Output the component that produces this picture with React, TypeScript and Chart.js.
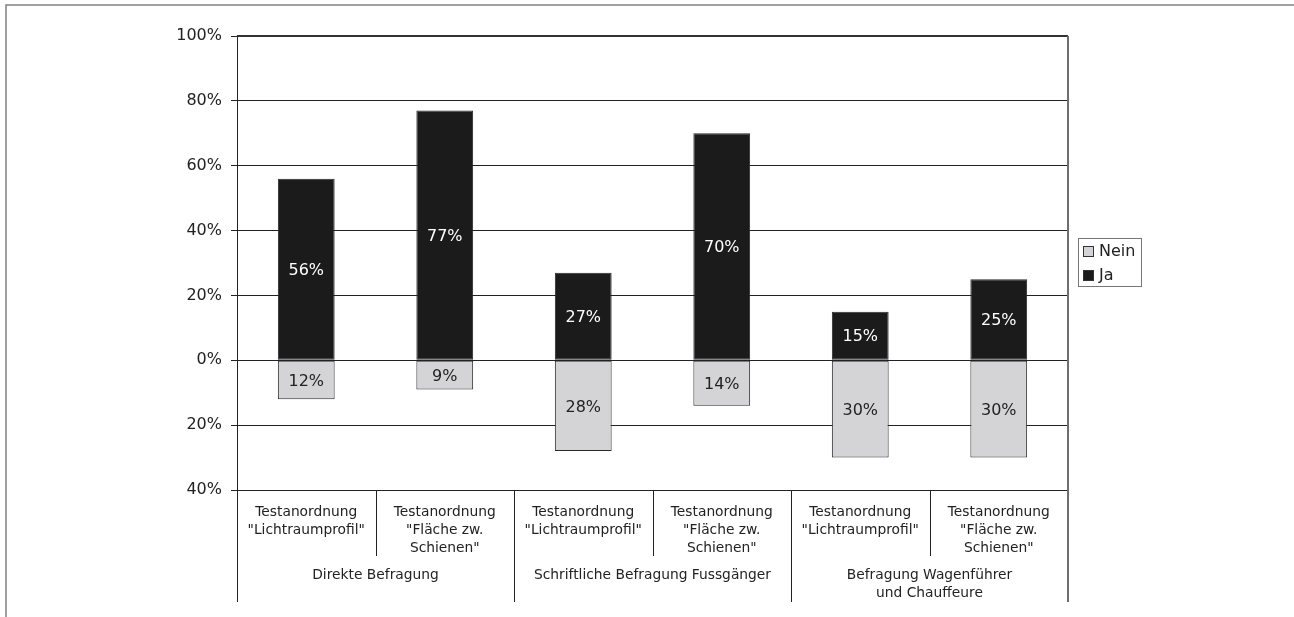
import React, { useEffect, useRef } from "react";
import { Chart, registerables } from "chart.js";

Chart.register(...registerables);

const categoryLabels: string[][] = [
  ["Testanordnung", "\"Lichtraumprofil\""],
  ["Testanordnung", "\"Fläche zw.", "Schienen\""],
  ["Testanordnung", "\"Lichtraumprofil\""],
  ["Testanordnung", "\"Fläche zw.", "Schienen\""],
  ["Testanordnung", "\"Lichtraumprofil\""],
  ["Testanordnung", "\"Fläche zw.", "Schienen\""],
];
const groupLabels: string[][] = [
  ["Direkte Befragung"],
  ["Schriftliche Befragung Fussgänger"],
  ["Befragung Wagenführer", "und Chauffeure"],
];
const neinValues = [-12, -9, -28, -14, -30, -30];
const jaValues = [56, 77, 27, 70, 15, 25];
const yMin = -40;
const yMax = 100;
const yStep = 20;

const FONT = "'DejaVu Sans', Verdana, sans-serif";
const TEXT = "#222222";

const barLabelPlugin = {
  id: "barLabels",
  afterDatasetsDraw(chart: any) {
    const ctx = chart.ctx;
    ctx.save();
    ctx.font = `16px ${FONT}`;
    ctx.textAlign = "center";
    ctx.textBaseline = "middle";
    chart.data.datasets.forEach((ds: any, di: number) => {
      const meta = chart.getDatasetMeta(di);
      meta.data.forEach((el: any, i: number) => {
        const v = ds.data[i];
        const p = el.getCenterPoint();
        ctx.fillStyle = ds.labelColor;
        ctx.fillText(Math.abs(v) + "%", p.x, p.y + 1.5);
      });
    });
    ctx.restore();
  },
};

const frameAndAxisPlugin = {
  id: "frameAxis",
  afterDraw(chart: any) {
    const ctx = chart.ctx;
    const area = chart.chartArea;
    const x = chart.scales.x;
    const n = chart.data.labels.length;
    const catW = (area.right - area.left) / n;
    ctx.save();
    // outer frame
    ctx.strokeStyle = "#808080";
    ctx.lineWidth = 1.5;
    ctx.beginPath();
    ctx.moveTo(6, chart.height);
    ctx.lineTo(6, 5);
    ctx.lineTo(chart.width, 5);
    ctx.stroke();
    // plot top and right borders
    ctx.strokeStyle = "#333333";
    ctx.lineWidth = 2;
    ctx.beginPath();
    ctx.moveTo(area.left, area.top);
    ctx.lineTo(area.right, area.top);
    ctx.stroke();
    ctx.strokeStyle = "#6e6e6e";
    ctx.beginPath();
    ctx.moveTo(area.right, area.top);
    ctx.lineTo(area.right, area.bottom + 112);
    ctx.stroke();
    // left line extension
    ctx.strokeStyle = "#222222";
    ctx.lineWidth = 1;
    ctx.beginPath();
    ctx.moveTo(area.left + 0.5, area.bottom);
    ctx.lineTo(area.left + 0.5, area.bottom + 112);
    ctx.stroke();
    // separators
    for (let i = 1; i < n; i++) {
      const bx = Math.round(area.left + catW * i) + 0.5;
      const len = i % 2 === 0 ? 112 : 66;
      ctx.beginPath();
      ctx.moveTo(bx, area.bottom);
      ctx.lineTo(bx, area.bottom + len);
      ctx.stroke();
    }
    // category labels
    ctx.fillStyle = TEXT;
    ctx.font = `13.8px ${FONT}`;
    ctx.textAlign = "center";
    ctx.textBaseline = "middle";
    categoryLabels.forEach((lines, i) => {
      const cx = x.getPixelForValue(i);
      lines.forEach((ln, j) => {
        ctx.fillText(ln, cx, area.bottom + 22 + j * 18);
      });
    });
    // group labels
    groupLabels.forEach((lines, g) => {
      const cx = (x.getPixelForValue(g * 2) + x.getPixelForValue(g * 2 + 1)) / 2;
      lines.forEach((ln, j) => {
        ctx.fillText(ln, cx, area.bottom + 85 + j * 18);
      });
    });
    // legend
    const lx = area.right + 10;
    const ly = 238;
    ctx.strokeStyle = "#777777";
    ctx.lineWidth = 1;
    ctx.strokeRect(lx + 0.5, ly + 0.5, 63, 48);
    ctx.font = `16px ${FONT}`;
    ctx.textAlign = "left";
    chart.data.datasets.forEach((ds: any, i: number) => {
      const iy = ly + 8 + i * 24;
      ctx.fillStyle = ds.backgroundColor;
      ctx.fillRect(lx + 5, iy, 11, 11);
      ctx.strokeStyle = "#333333";
      ctx.strokeRect(lx + 5.5, iy + 0.5, 10, 10);
      ctx.fillStyle = TEXT;
      ctx.fillText(ds.label, lx + 21, iy + 6);
    });
    ctx.restore();
  },
};

export default function App() {
  const ref = useRef<HTMLCanvasElement | null>(null);
  useEffect(() => {
    if (!ref.current) return;
    const chart = new Chart(ref.current, {
      type: "bar",
      data: {
        labels: categoryLabels.map((l) => l.join(" ")),
        datasets: [
          {
            label: "Nein",
            data: neinValues,
            backgroundColor: "#d4d4d6",
            borderColor: "#2a2a2a",
            borderWidth: 1,
            borderSkipped: false,
            labelColor: "#222222",
          } as any,
          {
            label: "Ja",
            data: jaValues,
            backgroundColor: "#1b1b1b",
            borderColor: "#2a2a2a",
            borderWidth: 1,
            borderSkipped: false,
            labelColor: "#ffffff",
          } as any,
        ],
      },
      options: {
        responsive: false,
        animation: false,
        devicePixelRatio: 1,
        layout: { padding: { left: 0, top: 36, right: 226, bottom: 127 } },
        datasets: { bar: { categoryPercentage: 1, barPercentage: 0.41 } },
        plugins: { legend: { display: false }, tooltip: { enabled: false } },
        scales: {
          x: { display: false, stacked: true },
          y: {
            stacked: true,
            min: yMin,
            max: yMax,
            ticks: {
              stepSize: yStep,
              color: TEXT,
              padding: 9,
              font: { family: FONT, size: 16 },
              callback: (v: any) => Math.abs(Number(v)) + "%",
            },
            grid: { color: "#222222", lineWidth: 1, tickLength: 6 },
            border: { color: "#222222", width: 1 },
            afterFit: (s: any) => {
              s.width = 237;
            },
          },
        },
      },
      plugins: [barLabelPlugin, frameAndAxisPlugin],
    });
    return () => chart.destroy();
  }, []);
  return (
    <div style={{ position: "fixed", left: 0, top: 0, width: 1294, height: 617, background: "#fff" }}>
      <canvas ref={ref} width={1294} height={617} style={{ display: "block" }} />
    </div>
  );
}
